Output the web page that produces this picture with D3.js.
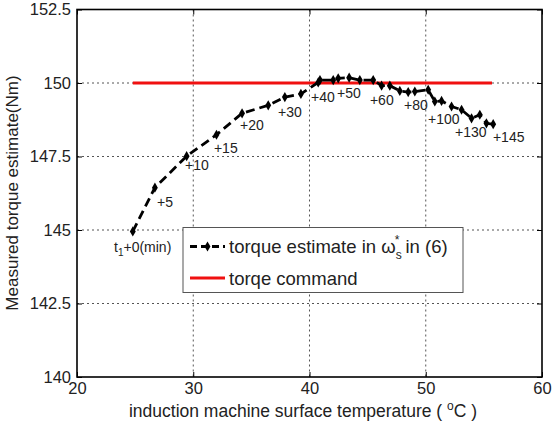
<!DOCTYPE html>
<html><head><meta charset="utf-8">
<script src="https://cdn.jsdelivr.net/npm/d3@7"></script>
<style>body{margin:0;background:#fff}svg{display:block}text{font-family:"Liberation Sans",Arial,sans-serif;fill:#222}</style>
</head><body><svg id="c" width="554" height="423"></svg>
<script>
const temps = [24.8,26.7,29.43,32.0,34.2,36.45,37.88,39.26,40.75,40.9,42.04,42.47,43.41,44.33,45.48,46.2,46.91,47.77,48.49,49.06,50.21,50.78,51.36,52.22,53.08,53.94,54.65,55.22,55.8];
const torque = [144.95,146.44,147.51,148.24,148.97,149.24,149.52,149.63,150.02,150.1,150.1,150.16,150.18,150.1,150.1,149.91,149.91,149.73,149.69,149.71,149.77,149.37,149.39,149.2,149.09,148.8,148.92,148.63,148.6];
const cmdX = [24.8,55.7];
const cmdY = [150,150];
const xTicks = [20,30,40,50,60];
const yTicks = [140,142.5,145,147.5,150,152.5];
const annLabels = ["+5","+10","+15","+20","+30","+40","+50","+60","+80","+100","+130","+145"];
const annX = [26.88,29.29,31.78,34.02,37.29,40.13,42.37,45.2,48.13,50.19,52.52,55.78];
const annY = [145.78,147.04,147.62,148.4,148.84,149.35,149.49,149.25,149.08,148.61,148.17,148.0];

const svg = d3.select("#c");
const L=77,R=542,T=9.5,B=377;
const x = d3.scaleLinear().domain([20,60]).range([L,R]);
const y = d3.scaleLinear().domain([140,152.5]).range([B,T]);

// grid
const g = svg.append("g");
g.selectAll(".gx").data(xTicks.slice(1,-1)).join("line")
 .attr("x1",d=>x(d)).attr("x2",d=>x(d)).attr("y1",T).attr("y2",B)
 .attr("stroke","#555").attr("stroke-width",1).attr("stroke-dasharray","2,3");
g.selectAll(".gy").data(yTicks.slice(1,-1)).join("line")
 .attr("y1",d=>y(d)).attr("y2",d=>y(d)).attr("x1",L).attr("x2",R)
 .attr("stroke","#555").attr("stroke-width",1).attr("stroke-dasharray","2,3");

// axes
const ax = d3.axisBottom(x).tickValues(xTicks).tickSize(-5).tickPadding(9).tickFormat(d3.format("d"));
const ay = d3.axisLeft(y).tickValues(yTicks).tickSize(-5).tickPadding(6).tickFormat(d=>String(d));
const gx = svg.append("g").attr("transform",`translate(0,${B})`).call(ax);
const gy = svg.append("g").attr("transform",`translate(${L},0)`).call(ay);
[gx,gy].forEach(a=>{a.select(".domain").remove();a.selectAll("line").attr("stroke","#000");
 a.selectAll("text").style("font-size","16.5px").attr("fill","#222");});
gx.selectAll("text").attr("dy","0.5em");
const ax2 = d3.axisTop(x).tickValues(xTicks).tickSize(-5).tickFormat("");
svg.append("g").attr("transform",`translate(0,${T})`).call(ax2).call(a=>{a.select(".domain").remove();a.selectAll("line").attr("stroke","#000");});
const ay2 = d3.axisRight(y).tickValues(yTicks).tickSize(-5).tickFormat("");
svg.append("g").attr("transform",`translate(${R},0)`).call(ay2).call(a=>{a.select(".domain").remove();a.selectAll("line").attr("stroke","#000");});
svg.append("rect").attr("x",L).attr("y",T).attr("width",R-L).attr("height",B-T)
 .attr("fill","none").attr("stroke","#000").attr("stroke-width",1.6);

// command line
svg.append("path").datum(d3.zip(cmdX,cmdY))
 .attr("d",d3.line().x(d=>x(d[0])).y(d=>y(d[1])))
 .attr("stroke","#f01010").attr("stroke-width",3).attr("fill","none");

// estimate line
const pts = d3.zip(temps,torque);
svg.append("path").datum(pts)
 .attr("d",d3.line().x(d=>x(d[0])).y(d=>y(d[1])))
 .attr("stroke","#000").attr("stroke-width",2.8).attr("fill","none").attr("stroke-dasharray","9,5");
const sym = d3.symbol().type(d3.symbolDiamond).size(30);
svg.selectAll(".m").data(pts).join("path").attr("d",sym)
 .attr("transform",d=>`translate(${x(d[0])},${y(d[1])})`).attr("fill","#000");

// annotations
svg.selectAll(".ann").data(d3.zip(annLabels,annX,annY)).join("text")
 .attr("x",d=>x(d[1])).attr("y",d=>y(d[2])).text(d=>d[0])
 .style("font-size","14px").attr("fill","#444");
const t0 = svg.append("text").attr("x",114).attr("y",252).style("font-size","14px").attr("fill","#444");
t0.append("tspan").text("t");
t0.append("tspan").text("1").attr("dy",4).style("font-size","10px");
t0.append("tspan").text("+0(min)").attr("dy",-4);

// legend
svg.append("rect").attr("x",183).attr("y",227.5).attr("width",280).attr("height",65)
 .attr("fill","#fff").attr("stroke","#555").attr("stroke-width",1);
svg.append("line").attr("x1",190).attr("x2",225).attr("y1",246.5).attr("y2",246.5)
 .attr("stroke","#000").attr("stroke-width",2.8).attr("stroke-dasharray","7,4");
svg.append("path").attr("d",sym).attr("transform","translate(207.5,246.5)").attr("fill","#000");
svg.append("line").attr("x1",190).attr("x2",225).attr("y1",278).attr("y2",278)
 .attr("stroke","#f01010").attr("stroke-width",3);
const l1 = svg.append("text").attr("x",229).attr("y",253).style("font-size","18.5px");
l1.append("tspan").text("torque estimate in ω");
l1.append("tspan").text("s").attr("dy",6).style("font-size","12px");
l1.append("tspan").text("*").attr("dx",-7).attr("dy",-15).style("font-size","12px");
l1.append("tspan").text(" in (6)").attr("dx",1).attr("dy",9);
svg.append("text").attr("x",229).attr("y",285).style("font-size","18.5px").text("torqe command");

// axis labels
const xl = svg.append("text").attr("x",303).attr("y",417).attr("text-anchor","middle").style("font-size","17.5px");
xl.append("tspan").text("induction machine surface temperature ( ");
xl.append("tspan").text("o").attr("dy",-7).style("font-size","12px");
xl.append("tspan").text("C )").attr("dy",7);
svg.append("text").attr("transform","translate(18,193) rotate(-90)").attr("text-anchor","middle")
 .style("font-size","17px").text("Measured torque estimate(Nm)");
</script></body></html>
